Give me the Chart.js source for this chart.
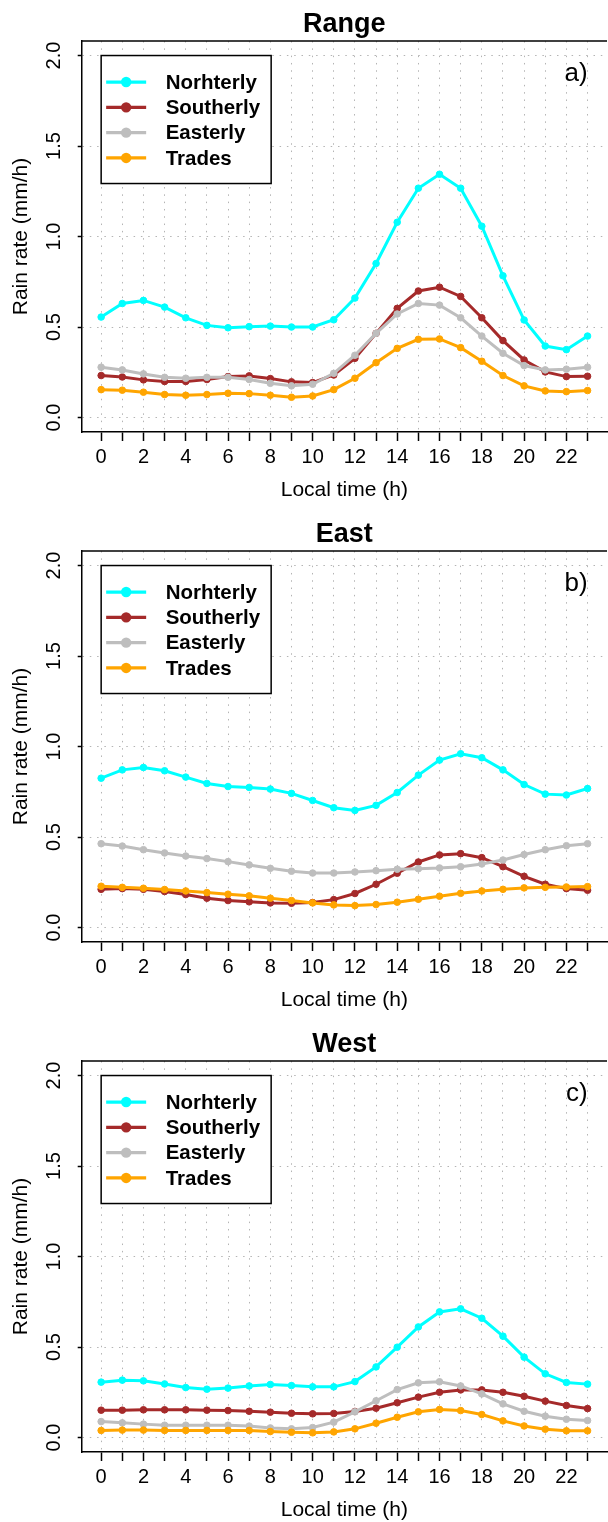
<!DOCTYPE html>
<html>
<head>
<meta charset="utf-8">
<script src="https://cdn.jsdelivr.net/npm/chart.js@4.4.1/dist/chart.umd.min.js"></script>
<style>
html, body { margin: 0; padding: 0; background: #fff; overflow: hidden; width: 608px; height: 1522px; }
.panel { position: absolute; left: 0; width: 612px; height: 510px; }
</style>
</head>
<body>
<div class="panel" style="top:-9px"><canvas id="range" width="612" height="510"></canvas></div>
<div class="panel" style="top:501px"><canvas id="east" width="612" height="510"></canvas></div>
<div class="panel" style="top:1011px"><canvas id="west" width="612" height="510"></canvas></div>
<script>
// local time (h)
var hours = [0, 1, 2, 3, 4, 5, 6, 7, 8, 9, 10, 11, 12, 13, 14, 15, 16, 17, 18, 19, 20, 21, 22, 23];
var yTicks = [0, 0.5, 1.0, 1.5, 2.0];
var seriesNames = ['Norhterly', 'Southerly', 'Easterly', 'Trades'];
var seriesColors = ['#00ffff', '#a52a2a', '#bebebe', '#ffa500'];

// a) Range
var rangeNortherly = [0.555, 0.63, 0.647, 0.61, 0.551, 0.509, 0.496, 0.502, 0.505, 0.5, 0.5, 0.54, 0.66, 0.851, 1.079, 1.267, 1.344, 1.267, 1.057, 0.783, 0.539, 0.395, 0.375, 0.45];
var rangeSoutherly = [0.232, 0.224, 0.208, 0.199, 0.199, 0.21, 0.226, 0.23, 0.215, 0.197, 0.193, 0.235, 0.327, 0.465, 0.603, 0.699, 0.72, 0.669, 0.551, 0.425, 0.318, 0.252, 0.226, 0.228];
var rangeEasterly = [0.278, 0.263, 0.241, 0.222, 0.217, 0.222, 0.222, 0.21, 0.189, 0.175, 0.184, 0.244, 0.344, 0.465, 0.572, 0.63, 0.621, 0.551, 0.45, 0.355, 0.287, 0.263, 0.267, 0.278];
var rangeTrades = [0.154, 0.151, 0.14, 0.127, 0.123, 0.127, 0.134, 0.132, 0.123, 0.112, 0.119, 0.154, 0.217, 0.303, 0.382, 0.432, 0.434, 0.386, 0.311, 0.232, 0.175, 0.147, 0.143, 0.149];

// b) East
var eastNortherly = [0.825, 0.871, 0.884, 0.866, 0.831, 0.796, 0.779, 0.774, 0.765, 0.741, 0.702, 0.662, 0.647, 0.675, 0.746, 0.842, 0.925, 0.96, 0.938, 0.871, 0.79, 0.737, 0.732, 0.768];
var eastSoutherly = [0.211, 0.215, 0.211, 0.199, 0.182, 0.162, 0.149, 0.142, 0.136, 0.134, 0.138, 0.154, 0.188, 0.239, 0.3, 0.362, 0.401, 0.408, 0.386, 0.336, 0.283, 0.239, 0.215, 0.206];
var eastEasterly = [0.463, 0.45, 0.43, 0.412, 0.395, 0.381, 0.364, 0.346, 0.327, 0.311, 0.301, 0.301, 0.307, 0.314, 0.322, 0.325, 0.329, 0.336, 0.351, 0.373, 0.403, 0.43, 0.452, 0.463];
var eastTrades = [0.228, 0.222, 0.217, 0.21, 0.202, 0.193, 0.184, 0.175, 0.162, 0.149, 0.136, 0.125, 0.121, 0.127, 0.14, 0.156, 0.173, 0.189, 0.202, 0.211, 0.219, 0.222, 0.224, 0.226];

// c) West
var westNortherly = [0.306, 0.317, 0.313, 0.296, 0.276, 0.267, 0.273, 0.285, 0.293, 0.287, 0.28, 0.28, 0.309, 0.39, 0.499, 0.611, 0.694, 0.711, 0.659, 0.56, 0.444, 0.352, 0.304, 0.295];
var westSoutherly = [0.151, 0.151, 0.153, 0.153, 0.153, 0.151, 0.149, 0.145, 0.14, 0.134, 0.131, 0.133, 0.144, 0.162, 0.192, 0.223, 0.25, 0.263, 0.263, 0.25, 0.228, 0.201, 0.177, 0.16];
var westEasterly = [0.088, 0.081, 0.074, 0.068, 0.068, 0.068, 0.068, 0.063, 0.053, 0.048, 0.055, 0.085, 0.142, 0.203, 0.265, 0.302, 0.308, 0.285, 0.241, 0.186, 0.145, 0.118, 0.101, 0.094];
var westTrades = [0.039, 0.041, 0.041, 0.039, 0.039, 0.039, 0.039, 0.039, 0.033, 0.029, 0.026, 0.031, 0.048, 0.079, 0.112, 0.142, 0.155, 0.149, 0.127, 0.092, 0.064, 0.046, 0.037, 0.037];

var fontFamily = '"Liberation Sans", Arial, Helvetica, sans-serif';
Chart.defaults.font.family = fontFamily;
Chart.defaults.color = '#000';

// frame top line, rotated y labels, legend box and panel letter
var panelDeco = {
  id: 'panelDeco',
  afterDraw: function(chart) {
    var c = chart.ctx;
    var area = chart.chartArea;
    var xs = chart.scales.x, ys = chart.scales.y;
    var letter = chart.options.plugins.panelDeco.letter;
    c.save();
    c.strokeStyle = '#000';
    c.lineWidth = 1.5;
    c.beginPath();
    c.moveTo(area.left, area.top);
    c.lineTo(area.right, area.top);
    c.stroke();

    c.fillStyle = '#000';
    c.font = '20px ' + fontFamily;
    c.textAlign = 'center';
    c.textBaseline = 'middle';
    ys.ticks.forEach(function(t) {
      c.save();
      c.translate(area.left - 27, ys.getPixelForValue(t.value));
      c.rotate(-Math.PI / 2);
      c.fillText(t.value.toFixed(1), 0, 0);
      c.restore();
    });

    // legend
    var lx = xs.getPixelForValue(0), ly = ys.getPixelForValue(2);
    c.fillStyle = '#fff';
    c.fillRect(lx, ly, 170, 128);
    c.strokeStyle = '#000';
    c.lineWidth = 1.5;
    c.strokeRect(lx, ly, 170, 128);
    c.font = 'bold 20.5px ' + fontFamily;
    c.textAlign = 'left';
    seriesNames.forEach(function(name, i) {
      var yy = ly + 26.5 + i * 25.3;
      c.strokeStyle = seriesColors[i];
      c.lineWidth = 3.3;
      c.beginPath();
      c.moveTo(lx + 5, yy);
      c.lineTo(lx + 45, yy);
      c.stroke();
      c.fillStyle = seriesColors[i];
      c.beginPath();
      c.arc(lx + 25, yy, 5.2, 0, Math.PI * 2);
      c.fill();
      c.fillStyle = '#000';
      c.fillText(name, lx + 64.5, yy + 1);
    });

    c.font = '26px ' + fontFamily;
    c.textAlign = 'right';
    c.fillText(letter, xs.getPixelForValue(23), ys.getPixelForValue(1.9));
    c.restore();
  }
};

function makePanel(id, title, letter, series) {
  var datasets = series.map(function(vals, i) {
    return {
      label: seriesNames[i],
      data: hours.map(function(h, k) { return { x: h, y: vals[k] }; }),
      borderColor: seriesColors[i],
      backgroundColor: seriesColors[i],
      pointBackgroundColor: seriesColors[i],
      pointBorderColor: seriesColors[i],
      borderWidth: 3,
      pointRadius: 3.3,
      pointBorderWidth: 1,
      tension: 0,
      order: 3 - i
    };
  });
  var gridColor = '#b4b4b4';
  var gridDash = [1.5, 5.8];
  return new Chart(document.getElementById(id), {
    type: 'line',
    data: { datasets: datasets },
    plugins: [panelDeco],
    options: {
      responsive: false,
      animation: false,
      devicePixelRatio: 1,
      layout: { padding: { left: 0, right: 2, top: 0, bottom: 0 } },
      plugins: {
        legend: { display: false },
        tooltip: { enabled: false },
        title: {
          display: true, text: title, fullSize: false, color: '#000',
          font: { size: 27, weight: 'bold', lineHeight: 1.15 },
          padding: { top: 18.5, bottom: 0.5 }
        },
        panelDeco: { letter: letter }
      },
      scales: {
        x: {
          type: 'linear', min: -0.92, max: 23.92, bounds: 'data',
          afterBuildTicks: function(s) { s.ticks = hours.map(function(h) { return { value: h }; }); },
          afterFit: function(s) { s.height = 69; },
          ticks: {
            autoSkip: false, maxRotation: 0, minRotation: 0, padding: 4, color: '#000',
            font: { size: 20 },
            callback: function(v) { return v % 2 === 0 ? String(v) : ''; }
          },
          grid: {
            color: gridColor, lineWidth: 1,
            drawTicks: true, tickLength: 9, tickColor: '#000', tickWidth: 1.5, tickBorderDash: []
          },
          border: { display: true, color: '#000', width: 1.5, dash: gridDash },
          title: {
            display: true, text: 'Local time (h)', color: '#000',
            font: { size: 21, lineHeight: 1.05 }, padding: { top: 0, bottom: 0 }
          }
        },
        y: {
          type: 'linear', min: -0.08, max: 2.08, bounds: 'data',
          afterBuildTicks: function(s) { s.ticks = yTicks.map(function(v) { return { value: v }; }); },
          afterFit: function(s) { s.width = 81.7; },
          ticks: { display: false },
          grid: {
            color: gridColor, lineWidth: 1,
            drawTicks: true, tickLength: 4, tickColor: '#000', tickWidth: 1.5, tickBorderDash: []
          },
          border: { display: true, color: '#000', width: 1.5, dash: gridDash },
          title: {
            display: true, text: 'Rain rate (mm/h)', color: '#000',
            font: { size: 21, lineHeight: 1.1 }, padding: { top: 9.5, bottom: 0 }
          }
        }
      }
    }
  });
}

makePanel('range', 'Range', 'a)', [rangeNortherly, rangeSoutherly, rangeEasterly, rangeTrades]);
makePanel('east', 'East', 'b)', [eastNortherly, eastSoutherly, eastEasterly, eastTrades]);
makePanel('west', 'West', 'c)', [westNortherly, westSoutherly, westEasterly, westTrades]);
</script>
</body>
</html>
